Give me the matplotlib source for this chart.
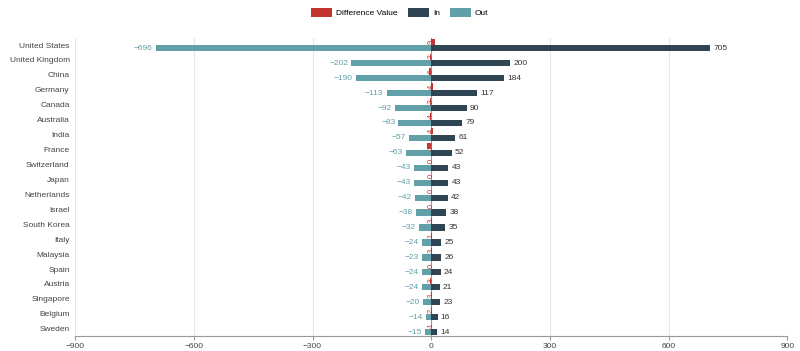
import numpy as np
import matplotlib.pyplot as plt
from matplotlib.patches import Patch

countries = ["United States", "United Kingdom", "China", "Germany", "Canada", "Australia",
             "India", "France", "Switzerland", "Japan", "Netherlands", "Israel", "South Korea",
             "Italy", "Malaysia", "Spain", "Austria", "Singapore", "Belgium", "Sweden"]
in_vals = [705, 200, 184, 117, 90, 79, 61, 52, 43, 43, 42, 38, 35, 25, 26, 24, 21, 23, 16, 14]
out_vals = [-696, -202, -190, -113, -92, -83, -57, -63, -43, -43, -42, -38, -32, -24, -23, -24, -24, -20, -14, -15]
diff_vals = [i + o for i, o in zip(in_vals, out_vals)]

c_diff = "#c23531"
c_in = "#2f4554"
c_out = "#61a0a8"

plt.rcParams['font.family'] = ['Liberation Sans', 'DejaVu Sans']

fig = plt.figure(figsize=(8, 3.51), dpi=100)
ax = fig.add_axes([0.094, 0.042, 0.89, 0.851])

y = np.arange(len(countries))
h = 0.42
off = 0.22

ax.barh(y - off, diff_vals, height=h, color=c_diff, zorder=3)
ax.barh(y + off, in_vals, height=h, color=c_in, zorder=3)
ax.barh(y + off, out_vals, height=h, color=c_out, zorder=3)

for yi, d, vi, vo in zip(y, diff_vals, in_vals, out_vals):
    ax.text(0, yi - off, str(d), color=c_diff, fontsize=5.5, ha='center', va='center',
            rotation=90, zorder=4)
    ax.text(vi + 8, yi + off, str(vi), color="#333333", fontsize=6, ha='left', va='center')
    ax.text(vo - 8, yi + off, "\u2212" + str(-vo), color=c_out, fontsize=6, ha='right', va='center')

ax.set_xlim(-900, 900)
ax.set_ylim(len(countries) - 0.5, -0.5)
ax.set_xticks([-900, -600, -300, 0, 300, 600, 900])
ax.set_xticklabels(["\u2212900", "\u2212600", "\u2212300", "0", "300", "600", "900"])
ax.set_yticks(y)
ax.set_yticklabels(countries)
ax.tick_params(axis='y', length=0, labelsize=6, colors="#444444", pad=4)
ax.tick_params(axis='x', length=3, labelsize=6, colors="#444444", color="#999999", pad=1.5)
ax.grid(axis='x', color="#e6e6e6", lw=0.8, zorder=0)
ax.axvline(0, color="#999999", lw=0.8, zorder=2)
for s in ['top', 'right', 'left']:
    ax.spines[s].set_visible(False)
ax.spines['bottom'].set_color("#999999")

handles = [Patch(facecolor=c_diff, label="Difference Value"),
           Patch(facecolor=c_in, label="In"),
           Patch(facecolor=c_out, label="Out")]
fig.legend(handles=handles, loc='upper center', bbox_to_anchor=(0.5, 1.0), ncol=3,
           frameon=False, fontsize=6, handlelength=2.5, handleheight=1.4, columnspacing=1.2,
           handletextpad=0.5)

plt.savefig("out.png")
